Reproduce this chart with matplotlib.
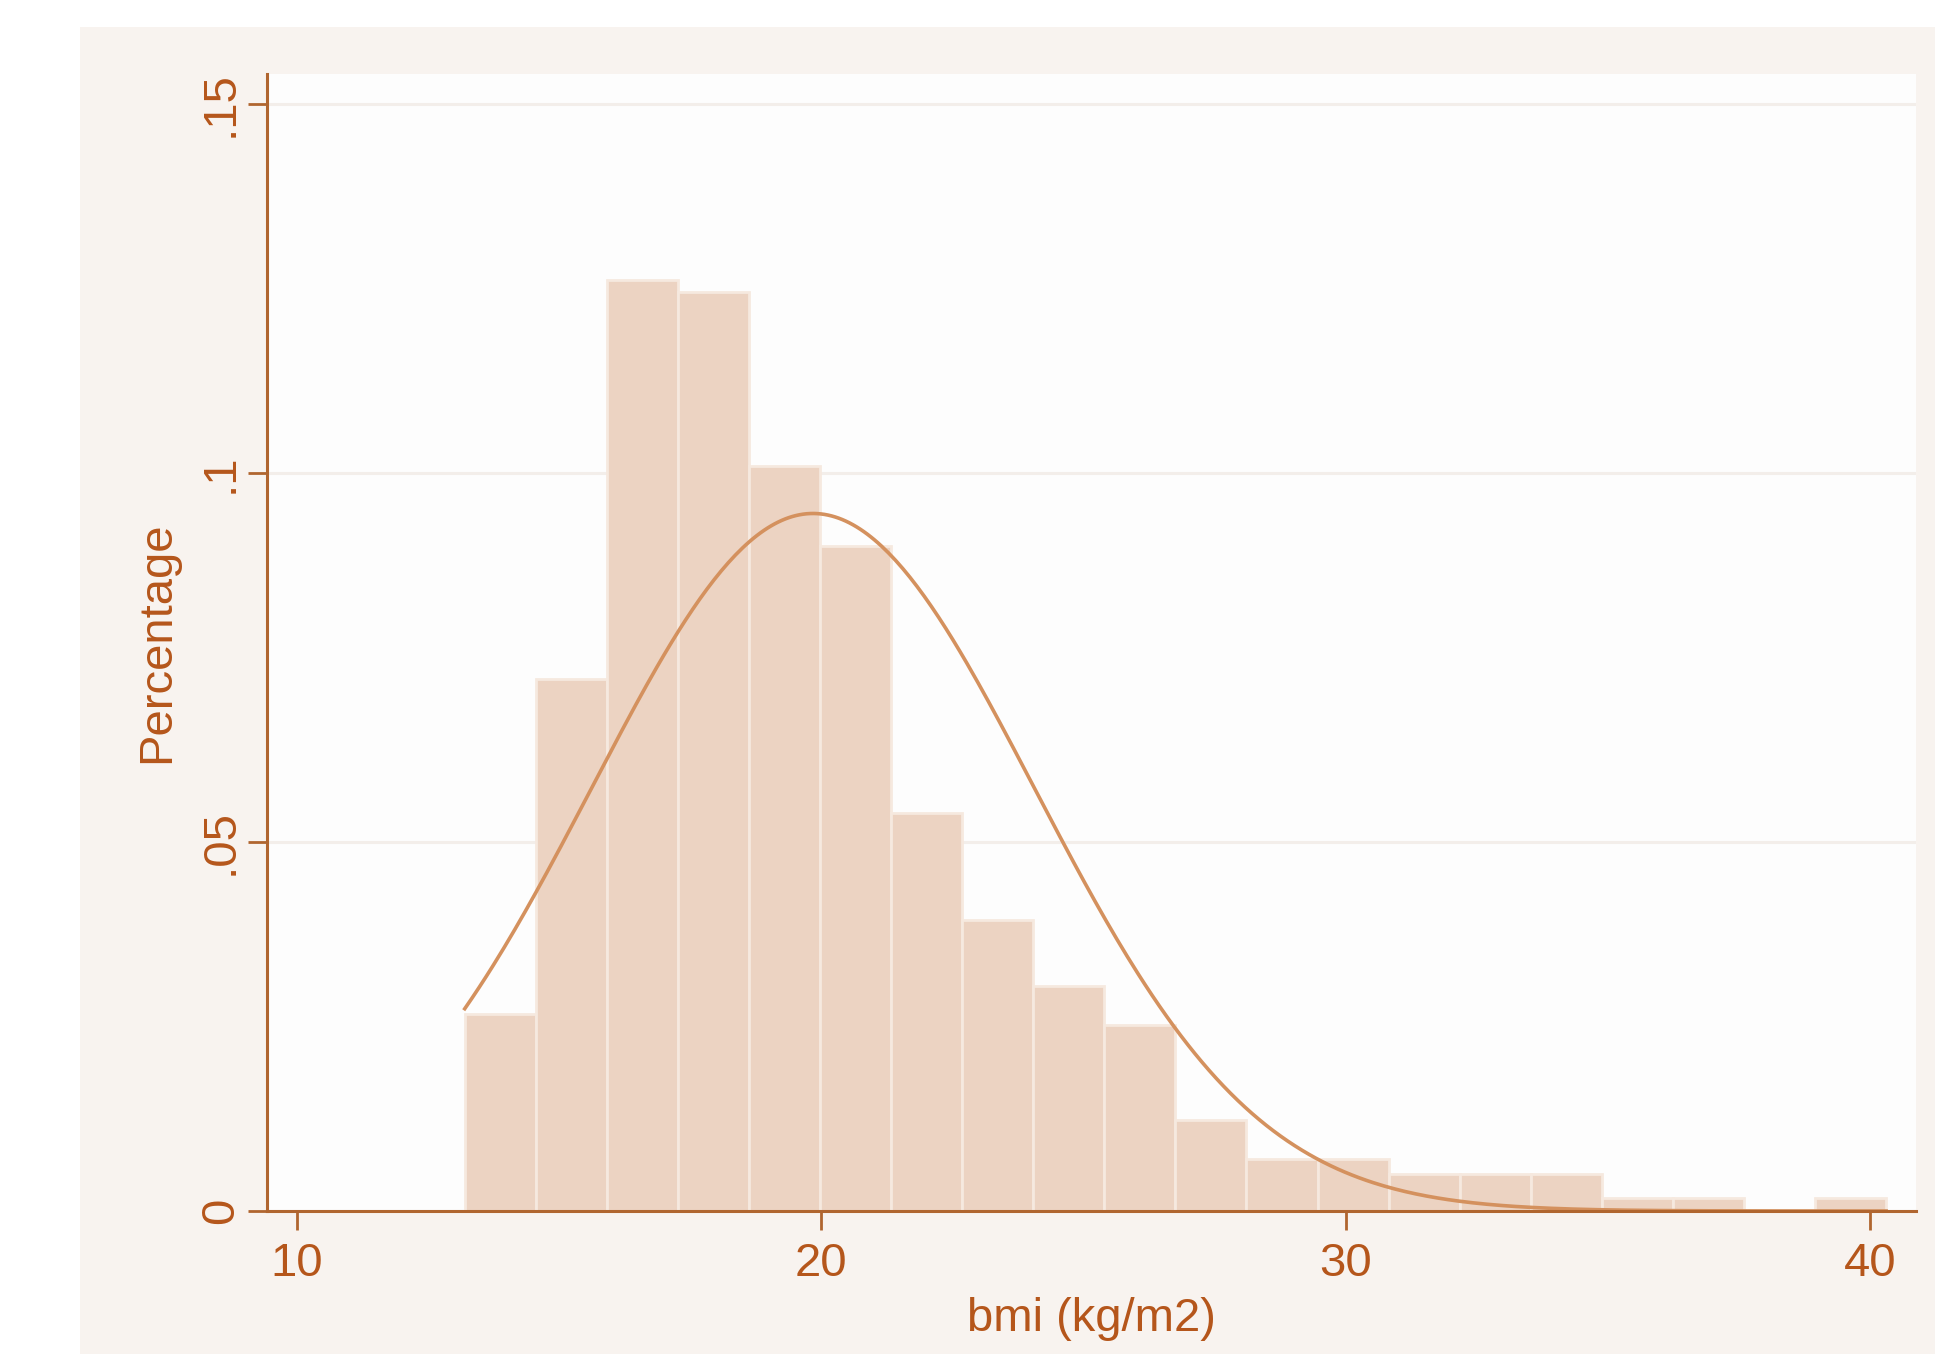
#!/usr/bin/env python3
#
# Histogram of bmi with a normal density overlay (Stata-style look)
#
import numpy as np
import matplotlib.pyplot as plt
from matplotlib.patches import Rectangle

# Histogram bins
bin_start = 13.2
bin_width = 1.355
heights = [0.0267, 0.0721, 0.1262, 0.1245, 0.1010, 0.0901, 0.0540, 0.0394,
           0.0305, 0.0252, 0.0124, 0.0070, 0.0070, 0.0050, 0.0050, 0.0050,
           0.0017, 0.0017, 0.0, 0.0017]

# Normal overlay parameters
bmi_mean = 19.84
bmi_sd = 4.22

yticks = [0, 0.05, 0.1, 0.15]
ytick_labels = ['0', '.05', '.1', '.15']
xticks = [10, 20, 30, 40]

text_col = '#b5561b'
axis_col = '#b0652f'
bar_col = '#ecd3c2'
bar_edge = '#f6e9df'
line_col = '#d4915e'
grid_col = '#f3eeea'
bg_col = '#f8f3ef'

plt.rcParams['font.family'] = ['Liberation Sans', 'DejaVu Sans']

fig = plt.figure(figsize=(19.35, 13.54), dpi=100)
fig.patch.set_facecolor('white')
fig.patches.append(Rectangle((80 / 1935, 0), 1 - 80 / 1935, 1 - 27 / 1354,
                             transform=fig.transFigure, facecolor=bg_col,
                             edgecolor='none', zorder=-10))

ax = fig.add_axes([267 / 1935, 1 - 1211 / 1354,
                   (1916 - 267) / 1935, (1211 - 74) / 1354])
ax.set_facecolor('#fdfdfd')

edges = bin_start + bin_width * np.arange(len(heights))
ax.bar(edges, heights, width=bin_width, align='edge', color=bar_col,
       edgecolor=bar_edge, linewidth=2, zorder=2)

xx = np.linspace(bin_start, bin_start + bin_width * len(heights), 400)
yy = np.exp(-0.5 * ((xx - bmi_mean) / bmi_sd) ** 2) / (bmi_sd * np.sqrt(2 * np.pi))
ax.plot(xx, yy, color=line_col, lw=2.6, zorder=3)

ax.set_xlim(9.43, 40.87)
ax.set_ylim(0, 0.1541)

ax.set_yticks(yticks)
ax.set_yticklabels(ytick_labels, rotation=90, va='center')
ax.set_xticks(xticks)
ax.yaxis.grid(True, color=grid_col, lw=2.2, zorder=0)
ax.set_axisbelow(True)

for s in ('top', 'right'):
    ax.spines[s].set_visible(False)
for s in ('left', 'bottom'):
    ax.spines[s].set_color(axis_col)
    ax.spines[s].set_linewidth(2.2)
    ax.spines[s].set_zorder(4)

ax.tick_params(axis='both', colors=axis_col, labelcolor=text_col,
               length=13.5, width=2, labelsize=34)
ax.tick_params(axis='x', pad=9)
ax.tick_params(axis='y', pad=4)

ax.set_xlabel('bmi (kg/m2)', fontsize=34, color=text_col, labelpad=8)
ax.set_ylabel('Percentage', fontsize=34, color=text_col, labelpad=14)

fig.savefig('out.png', dpi=100)
